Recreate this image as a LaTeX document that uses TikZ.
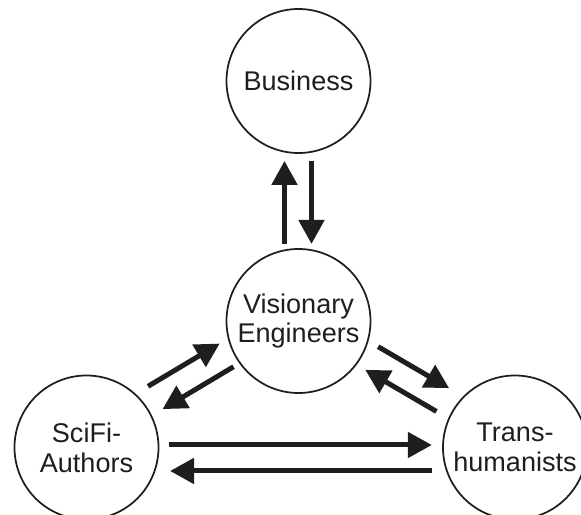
\documentclass[tikz,border=0pt]{standalone}
\usepackage{fontspec}
\setmainfont{Liberation Sans}
\usetikzlibrary{arrows.meta,calc}
\definecolor{ink}{HTML}{1E1E1E}
\tikzset{
  actor/.style={circle, draw=ink, line width=0.035cm, minimum size=2.88cm,
    inner sep=0pt, align=center, text=ink,
    font=\fontsize{15.4}{17}\selectfont},
  flow/.style={-{Triangle[length=0.48cm,width=0.5cm]}, draw=ink, line width=0.1cm}
}
\begin{document}
\begin{tikzpicture}
  \useasboundingbox (0,0) rectangle (11.62,10.30);
  \node[actor] (BU) at (5.97,8.68) {Business};
  \node[actor] (VE) at (5.97,3.88) {Visionary\\Engineers};
  \node[actor] (SF) at (1.73,1.35) {SciFi-\\Authors};
  \node[actor] (TH) at (10.30,1.35) {Trans-\\humanists};

  % Engineers <-> Business
  \path ($(VE)!0.321!(BU)!0.28cm!90:(BU)$) edge[flow] ($(VE)!0.667!(BU)!0.28cm!90:(BU)$);
  \path ($(VE)!0.667!(BU)!-0.26cm!90:(BU)$) edge[flow] ($(VE)!0.321!(BU)!-0.26cm!90:(BU)$);
  % Authors <-> Engineers
  \path ($(SF)!0.341!(VE)!0.42cm!90:(VE)$) edge[flow] ($(SF)!0.679!(VE)!0.42cm!90:(VE)$);
  \path ($(SF)!0.679!(VE)!-0.12cm!90:(VE)$) edge[flow] ($(SF)!0.344!(VE)!-0.12cm!90:(VE)$);
  % Engineers <-> Transhumanists
  \path ($(VE)!0.326!(TH)!0.36cm!90:(TH)$) edge[flow] ($(VE)!0.654!(TH)!0.36cm!90:(TH)$);
  \path ($(VE)!0.657!(TH)!-0.17cm!90:(TH)$) edge[flow] ($(VE)!0.328!(TH)!-0.17cm!90:(TH)$);
  % Authors <-> Transhumanists
  \path ($(SF)!0.193!(TH)!0.05cm!90:(TH)$) edge[flow] ($(SF)!0.806!(TH)!0.05cm!90:(TH)$);
  \path ($(SF)!0.806!(TH)!-0.47cm!90:(TH)$) edge[flow] ($(SF)!0.195!(TH)!-0.47cm!90:(TH)$);
\end{tikzpicture}
\end{document}
